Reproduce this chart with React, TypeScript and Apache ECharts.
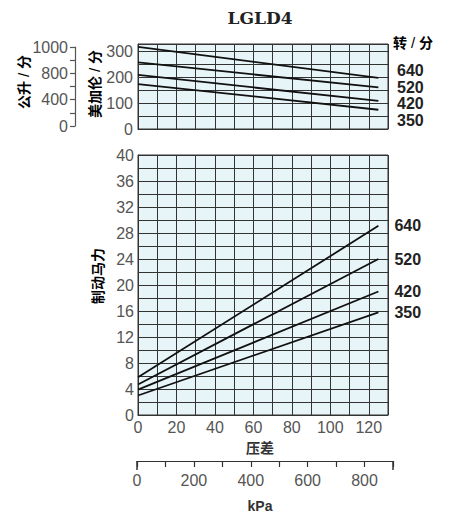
import { useEffect, useRef } from 'react';
import * as echarts from 'echarts';

// ---- data ----
const speeds = ['640', '520', '420', '350'];
const pressurePsi = [0, 125];
// top chart: flow in US gal/min
const flowGpm: number[][] = [
  [316, 197],
  [256, 160],
  [208, 108],
  [173, 74],
];
// bottom chart: brake horsepower
const brakeHp: number[][] = [
  [5.8, 29.1],
  [4.7, 24.0],
  [3.9, 19.0],
  [3.0, 15.8],
];
const lpmTickLabels = ['0', '', '400', '', '800', '', '1000'];
const kpaMax = 900;

const tickFont = { fontFamily: 'Liberation Sans', fontSize: 16, color: '#555' };
const gridColor = '#333';
const bg = '#e8f5f8';

export default function App() {
  const ref = useRef<HTMLDivElement>(null);
  useEffect(() => {
    const chart = echarts.init(ref.current!, null, { renderer: 'svg' });
    const cjk = 'Noto Sans CJK SC';
    const nameRich = {
      a: { fontFamily: cjk, fontSize: 14, fontWeight: 'bold', color: '#333' },
      s: { fontFamily: 'Liberation Sans', fontSize: 15, color: '#aaa', padding: [0, 4, 0, 4] },
    };
    const topLabelY = [70, 87, 103, 120];
    const option: any = {
      animation: false,
      grid: [
        { left: 138, top: 44, width: 250, height: 85, show: true, backgroundColor: bg, borderColor: gridColor, borderWidth: 1 },
        { left: 138, top: 155, width: 250, height: 260, show: true, backgroundColor: bg, borderColor: gridColor, borderWidth: 1 },
        { left: 75, top: 47, width: 10, height: 79, show: false },
        { left: 137, top: 460, width: 256, height: 1, show: false },
      ],
      xAxis: [
        {
          gridIndex: 0, type: 'value', min: 0, max: 130, interval: 10,
          axisLabel: { show: false }, axisTick: { show: false },
          axisLine: { lineStyle: { color: gridColor } },
          splitLine: { lineStyle: { color: gridColor, width: 1 } },
        },
        {
          gridIndex: 1, type: 'value', min: 0, max: 130, interval: 10,
          axisLabel: { ...tickFont, margin: 4, formatter: (v: number) => (v % 20 === 0 && v <= 120 ? String(v) : '') },
          axisTick: { show: false },
          axisLine: { lineStyle: { color: gridColor } },
          splitLine: { lineStyle: { color: gridColor, width: 1 } },
        },
        { gridIndex: 2, type: 'value', min: 0, max: 1, show: false },
        {
          gridIndex: 3, type: 'value', min: 0, max: kpaMax, interval: 100, position: 'bottom', offset: 0,
          axisLine: { lineStyle: { color: '#333', width: 1.2 } },
          axisTick: { show: true, length: 6, inside: false, lineStyle: { color: '#333', width: 1.2 } },
          axisLabel: { ...tickFont, margin: 11, formatter: (v: number) => (v % 200 === 0 ? String(v) : '') },
          splitLine: { show: false },
        },
        {
          gridIndex: 3, type: 'value', min: 0, max: kpaMax, interval: kpaMax, position: 'bottom', offset: 0,
          axisLine: { show: false },
          axisTick: { show: true, length: 9, inside: false, lineStyle: { color: '#333', width: 1.5 } },
          axisLabel: { show: false },
          splitLine: { show: false },
        },
      ],
      yAxis: [
        {
          gridIndex: 0, type: 'value', min: 0, max: 327, interval: 50,
          axisLabel: { ...tickFont, margin: 5, formatter: (v: number) => (v % 100 === 0 && v <= 300 ? String(v) : '') },
          axisTick: { show: false },
          axisLine: { show: true, lineStyle: { color: gridColor } },
          splitLine: { lineStyle: { color: gridColor, width: 1 } },
        },
        {
          gridIndex: 1, type: 'value', min: 0, max: 40, interval: 2,
          axisLabel: { ...tickFont, margin: 4, formatter: (v: number) => (v % 4 === 0 ? String(v) : '') },
          axisTick: { show: false },
          axisLine: { show: true, lineStyle: { color: gridColor } },
          splitLine: { lineStyle: { color: gridColor, width: 1 } },
        },
        {
          gridIndex: 2, type: 'value', min: 0, max: 6, interval: 1, position: 'left',
          axisLine: { show: true, lineStyle: { color: '#555', width: 1.2 } },
          axisTick: { show: true, length: 5, inside: false, lineStyle: { color: '#555', width: 1.2 } },
          axisLabel: { ...tickFont, margin: 7, formatter: (v: number) => lpmTickLabels[Math.round(v)] ?? '' },
          splitLine: { show: false },
        },
        { gridIndex: 3, type: 'value', min: 0, max: 1, show: false },
      ],
      series: [
        ...speeds.map((s, i) => ({
          name: 'flow-' + s, type: 'line', xAxisIndex: 0, yAxisIndex: 0, symbol: 'none',
          lineStyle: { color: '#111', width: 1.8 },
          data: pressurePsi.map((x, j) => [x, flowGpm[i][j]]),
        })),
        ...speeds.map((s, i) => ({
          name: 'hp-' + s, type: 'line', xAxisIndex: 1, yAxisIndex: 1, symbol: 'none',
          lineStyle: { color: '#111', width: 1.8 },
          data: pressurePsi.map((x, j) => [x, brakeHp[i][j]]),
          endLabel: {
            show: true, formatter: s, distance: 16,
            fontFamily: 'Liberation Sans', fontSize: 16, fontWeight: 'bold', color: '#222',
          },
        })),
      ],
      graphic: [
        {
          type: 'text', x: 260, y: 18,
          style: { text: 'LGLD4', fontFamily: 'DejaVu Serif', fontWeight: 'bold', fontSize: 17, fill: '#222', textAlign: 'center', textVerticalAlign: 'middle' },
        },
        {
          type: 'text', x: 23, y: 82, rotation: Math.PI / 2,
          style: { text: '{a|公升}{s|/}{a|分}', rich: nameRich, textAlign: 'center', textVerticalAlign: 'middle' },
        },
        {
          type: 'text', x: 94, y: 84, rotation: Math.PI / 2,
          style: { text: '{a|美加伦}{s|/}{a|分}', rich: nameRich, textAlign: 'center', textVerticalAlign: 'middle' },
        },
        {
          type: 'text', x: 97, y: 276, rotation: Math.PI / 2,
          style: { text: '{a|制动马力}', rich: nameRich, textAlign: 'center', textVerticalAlign: 'middle' },
        },
        {
          type: 'text', x: 413, y: 42,
          style: { text: '{a|转}{s|/}{a|分}', rich: nameRich, textAlign: 'center', textVerticalAlign: 'middle' },
        },
        {
          type: 'text', x: 260, y: 447,
          style: { text: '压差', fontFamily: cjk, fontWeight: 'bold', fontSize: 14, fill: '#333', textAlign: 'center', textVerticalAlign: 'middle' },
        },
        {
          type: 'text', x: 260, y: 506,
          style: { text: 'kPa', fontFamily: 'Liberation Sans', fontWeight: 'bold', fontSize: 14, fill: '#333', textAlign: 'center', textVerticalAlign: 'middle' },
        },
        ...speeds.map((s, i) => ({
          type: 'text', x: 397, y: topLabelY[i],
          style: { text: s, fontFamily: 'Liberation Sans', fontWeight: 'bold', fontSize: 16, fill: '#222', textAlign: 'left', textVerticalAlign: 'middle' },
        })),
      ],
    };
    chart.setOption(option);
    return () => chart.dispose();
  }, []);
  return <div ref={ref} style={{ position: 'absolute', left: 0, top: 0, width: 449, height: 519 }} />;
}
